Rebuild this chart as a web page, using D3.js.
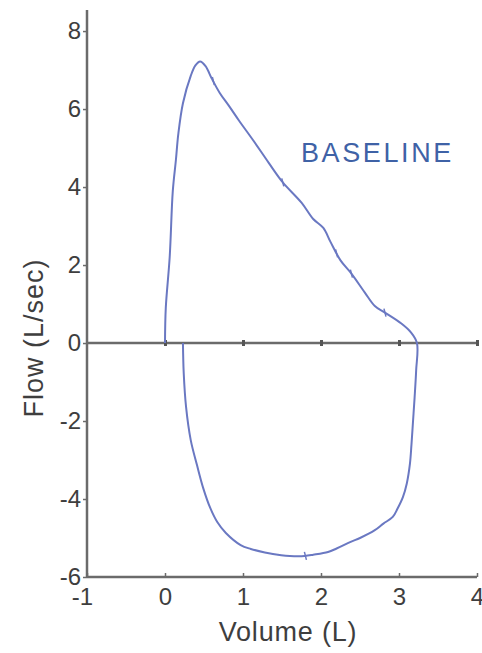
<!DOCTYPE html>
<html>
<head>
<meta charset="utf-8">
<script src="https://cdn.jsdelivr.net/npm/d3@7"></script>
<style>
  html, body { margin: 0; padding: 0; background: #fff; }
  svg { display: block; font-family: "Liberation Sans", Arial, sans-serif; }
</style>
</head>
<body>
<svg id="chart" width="482" height="653"></svg>
<script>
// Volume (L), Flow (L/sec) — expiratory limb then inspiratory limb
const expiratory = [
  [0,0],[0.01,0.9],[0.06,2.2],[0.1,3.9],[0.14,4.7],[0.17,5.35],[0.23,6.15],
  [0.33,6.85],[0.39,7.12],[0.45,7.22],[0.52,7.1],[0.6,6.78],[0.7,6.42],[0.82,6.08],
  [0.95,5.7],[1.13,5.2],[1.33,4.62],[1.51,4.12],[1.75,3.6],[1.9,3.18],[2.03,2.95],
  [2.12,2.6],[2.25,2.12],[2.39,1.78],[2.56,1.3],[2.69,0.95],[2.82,0.78],[3.03,0.5],
  [3.15,0.28],[3.23,0]
];
const inspiratory = [
  [3.23,0],[3.22,-0.7],[3.2,-1.4],[3.18,-2.0],[3.16,-2.6],[3.14,-3.1],[3.1,-3.6],
  [3.05,-3.95],[2.98,-4.25],[2.92,-4.46],[2.8,-4.63],[2.69,-4.8],[2.5,-5.0],[2.38,-5.1],
  [2.2,-5.27],[2.09,-5.36],[1.9,-5.43],[1.79,-5.46],[1.6,-5.46],[1.49,-5.44],[1.28,-5.37],
  [1.1,-5.28],[0.97,-5.18],[0.78,-4.87],[0.67,-4.59],[0.58,-4.23],[0.49,-3.72],[0.41,-3.13],
  [0.33,-2.49],[0.27,-1.64],[0.24,-0.77],[0.23,0]
];
// small timing marks on the trace
const timeMarks = [[0.62,6.72],[1.51,4.12],[2.2,2.3],[2.39,1.78],[2.82,0.78],[1.8,-5.46]];
const xTicks = [-1,0,1,2,3,4];
const yTicks = [-6,-4,-2,0,2,4,6,8];
const xTitle = "Volume (L)";
const yTitle = "Flow (L/sec)";
const label = "BASELINE";

const svg = d3.select("#chart");
const x = d3.scaleLinear().domain([-1, 4]).range([87, 477]);
const y = d3.scaleLinear().domain([-6, 8.54]).range([577, 10]);

const axisColor = "#6b6b6b";
const textColor = "#3e3e3e";
const lineColor = "#6a78c2";
const fmt = d => String(d);

// y axis
const gy = svg.append("g").attr("transform", `translate(${x(-1)},0)`)
  .call(d3.axisLeft(y).tickValues(yTicks).tickSize(4).tickFormat(fmt));
gy.select(".domain").attr("stroke", axisColor).attr("stroke-width", 2.5)
  .attr("d", `M0,${y(8.54)}V${y(-6)}`);
gy.selectAll(".tick line").attr("stroke", axisColor).attr("stroke-width", 1.5);
gy.selectAll(".tick text").attr("fill", textColor).attr("font-size", 24)
  .attr("font-family", "Liberation Sans, Arial, sans-serif").attr("x", -6);

// x axis
const gx = svg.append("g").attr("transform", `translate(0,${y(-6)})`)
  .call(d3.axisBottom(x).tickValues(xTicks).tickSize(-4).tickFormat(fmt));
gx.select(".domain").attr("stroke", axisColor).attr("stroke-width", 2.5)
  .attr("d", `M${x(-1)},0H${x(4)}`);
gx.selectAll(".tick line").attr("stroke", axisColor).attr("stroke-width", 1.5);
gx.selectAll(".tick text").attr("fill", textColor).attr("font-size", 24)
  .attr("font-family", "Liberation Sans, Arial, sans-serif").attr("y", 11)
  .attr("dx", d => d < 0 ? -5 : 0);

// zero line
const gz = svg.append("g").attr("transform", `translate(0,${y(0)})`)
  .call(d3.axisBottom(x).tickValues(xTicks.slice(1)).tickSize(0).tickFormat(""));
gz.select(".domain").attr("stroke", axisColor).attr("stroke-width", 2.5)
  .attr("d", `M${x(-1)},0H${x(4)}`);
gz.selectAll(".tick").append("line").attr("y1", -3).attr("y2", 3)
  .attr("stroke", "#555").attr("stroke-width", 3);

// trace
const line = d3.line().x(d => x(d[0])).y(d => y(d[1])).curve(d3.curveCatmullRom.alpha(0.5));
const trace = expiratory.concat(inspiratory.slice(1));
svg.append("path").datum(trace).attr("d", line)
  .attr("fill", "none").attr("stroke", lineColor).attr("stroke-width", 2)
  .attr("stroke-linejoin", "round");

svg.append("g").selectAll("line").data(timeMarks).join("line")
  .attr("x1", d => x(d[0]) - 1).attr("x2", d => x(d[0]) + 1)
  .attr("y1", d => y(d[1]) - 4).attr("y2", d => y(d[1]) + 4)
  .attr("stroke", lineColor).attr("stroke-width", 1.5);

// titles
svg.append("text").attr("x", 288).attr("y", 641).attr("text-anchor", "middle")
  .attr("font-size", 27).attr("letter-spacing", 0.8).attr("fill", textColor).text(xTitle);
svg.append("text").attr("transform", "translate(43,338) rotate(-90)").attr("text-anchor", "middle")
  .attr("font-size", 27).attr("letter-spacing", 1).attr("fill", textColor).text(yTitle);

svg.append("text").attr("x", 301).attr("y", 162).attr("font-size", 27)
  .attr("fill", "#3f62a6").attr("letter-spacing", 2.6).text(label);
</script>
</body>
</html>
